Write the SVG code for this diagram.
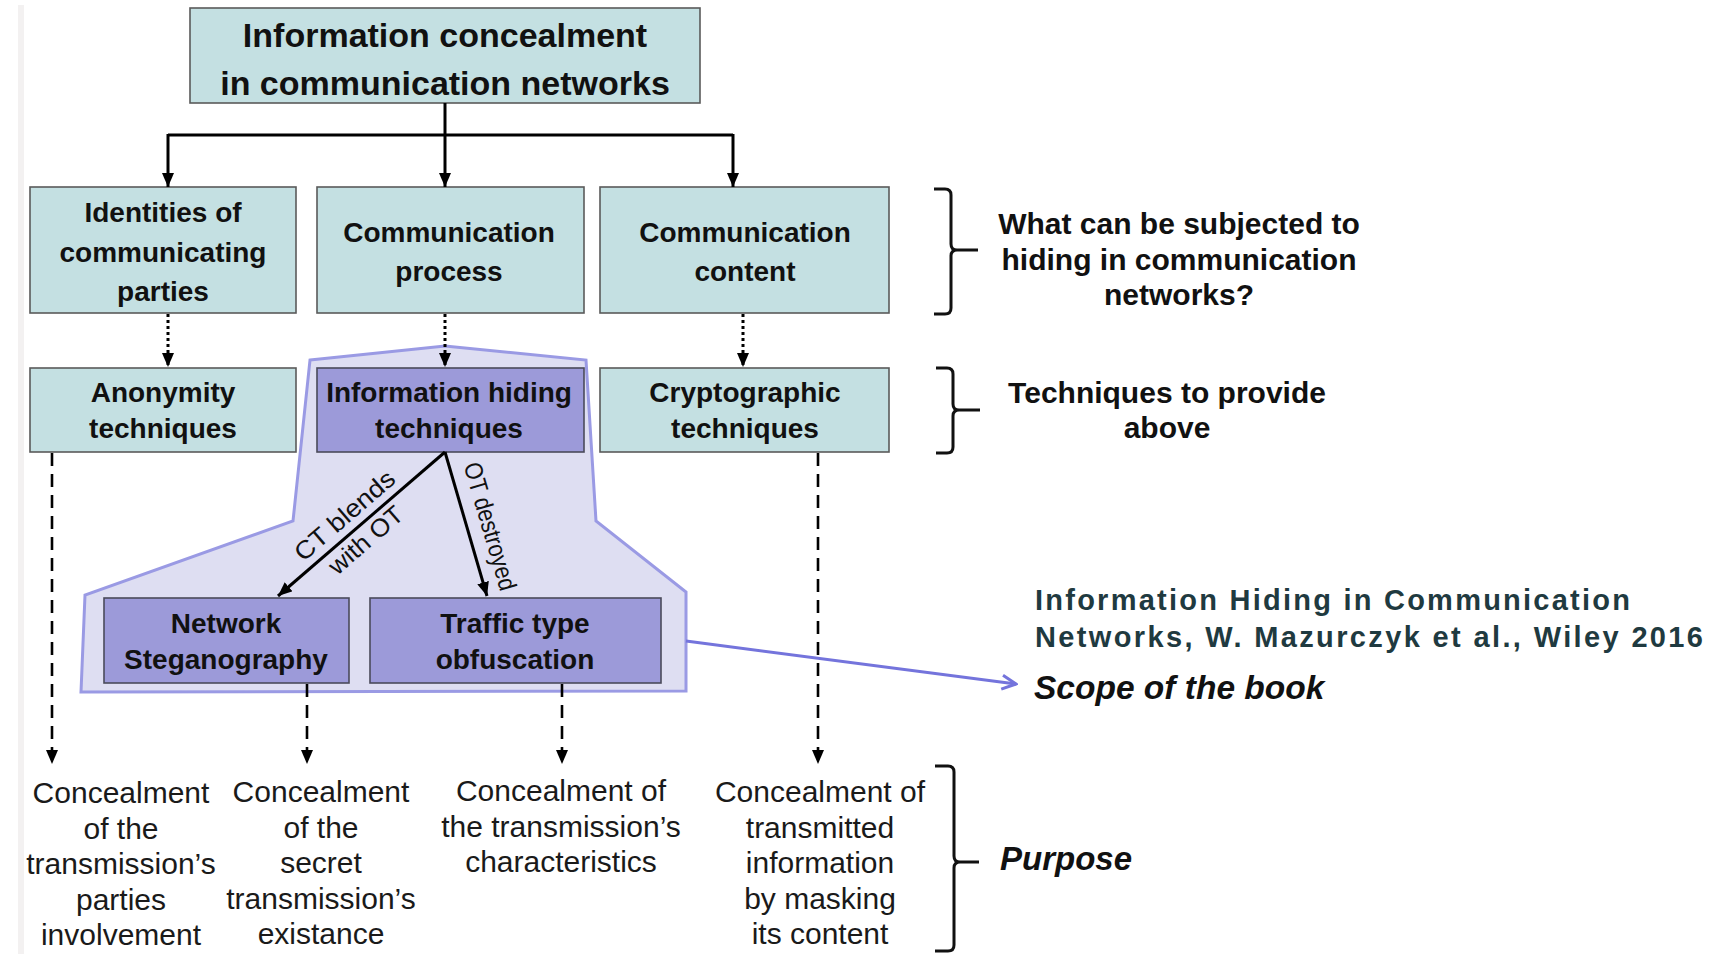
<svg xmlns="http://www.w3.org/2000/svg" width="1729" height="954" viewBox="0 0 1729 954">
<style>
  .box { fill:#c4e0e2; stroke:#5a5a5a; stroke-width:1.6; }
  .pbox { fill:#9c9ad9; stroke:#4a4a5a; stroke-width:1.6; }
  .t { font-family:"Liberation Sans", Arial, Helvetica, sans-serif; fill:#111; text-anchor:middle; }
  .b28 { font-size:28px; font-weight:bold; }
  .title { font-size:34px; font-weight:bold; }
  .reg { font-size:30px; font-weight:normal; fill:#1a1a1a; }
  .lab { font-size:25px; font-weight:normal; }
  .side { font-size:30px; font-weight:bold; }
  .bi { font-family:"Liberation Sans", Arial, Helvetica, sans-serif; font-weight:bold; font-style:italic; fill:#111; }
  .cite { font-family:"Liberation Sans", Arial, Helvetica, sans-serif; font-weight:bold; font-size:29px; fill:#1f3a40; }
  .solid { fill:none; stroke:#000; stroke-width:3; }
  .dotted { fill:none; stroke:#000; stroke-width:3; stroke-dasharray:3 3; }
  .dashed { fill:none; stroke:#000; stroke-width:2.6; stroke-dasharray:13 8; }
  .brace { fill:none; stroke:#111; stroke-width:3; stroke-linejoin:round; }
</style>
<defs>
  <marker id="ah" viewBox="0 0 14 12" refX="14" refY="6" markerWidth="14" markerHeight="12" markerUnits="userSpaceOnUse" orient="auto">
    <path d="M0,0 L14,6 L0,12 z" fill="#000"/>
  </marker>
  <marker id="bh" viewBox="0 0 20 20" refX="18" refY="10" markerWidth="20" markerHeight="20" markerUnits="userSpaceOnUse" orient="auto">
    <path d="M4,3 L18,10 L4,17" fill="none" stroke="#7474dc" stroke-width="3"/>
  </marker>
</defs>
<rect x="0" y="0" width="1729" height="954" fill="#ffffff"/>
<rect x="18" y="5" width="6" height="949" fill="#f3f1f1"/>

<g id="scope-region">
  <path d="M310,360 L445,346 L586,360 L596,521 L686,592 L686,691 L81,692 L85,595 L293,521 Z" fill="#dedef2" stroke="#9a9ae4" stroke-width="3"/>
</g>

<g id="title">
  <rect class="box" x="190" y="8" width="510" height="95"/>
  <text class="t title" x="445" y="47">Information concealment</text>
  <text class="t title" x="445" y="95">in communication networks</text>
</g>

<g id="identities">
  <rect class="box" x="30" y="187" width="266" height="126"/>
  <text class="t b28" x="163" y="222">Identities of</text>
  <text class="t b28" x="163" y="262">communicating</text>
  <text class="t b28" x="163" y="301">parties</text>
</g>
<g id="process">
  <rect class="box" x="317" y="187" width="267" height="126"/>
  <text class="t b28" x="449" y="242">Communication</text>
  <text class="t b28" x="449" y="281">process</text>
</g>
<g id="content">
  <rect class="box" x="600" y="187" width="289" height="126"/>
  <text class="t b28" x="745" y="242">Communication</text>
  <text class="t b28" x="745" y="281">content</text>
</g>

<g id="anonymity">
  <rect class="box" x="30" y="368" width="266" height="84"/>
  <text class="t b28" x="163" y="402">Anonymity</text>
  <text class="t b28" x="163" y="438">techniques</text>
</g>
<g id="info-hiding">
  <rect class="pbox" x="317" y="368" width="267" height="84"/>
  <text class="t b28" x="449" y="402">Information hiding</text>
  <text class="t b28" x="449" y="438">techniques</text>
</g>
<g id="crypto">
  <rect class="box" x="600" y="368" width="289" height="84"/>
  <text class="t b28" x="745" y="402">Cryptographic</text>
  <text class="t b28" x="745" y="438">techniques</text>
</g>

<g id="steganography">
  <rect class="pbox" x="104" y="598" width="245" height="85"/>
  <text class="t b28" x="226" y="633">Network</text>
  <text class="t b28" x="226" y="669">Steganography</text>
</g>
<g id="obfuscation">
  <rect class="pbox" x="370" y="598" width="291" height="85"/>
  <text class="t b28" x="515" y="633">Traffic type</text>
  <text class="t b28" x="515" y="669">obfuscation</text>
</g>

<g id="connectors">
  <path class="solid" d="M445,103 V187" marker-end="url(#ah)"/>
  <path class="solid" d="M168,135 H733"/>
  <path class="solid" d="M168,134 V187" marker-end="url(#ah)"/>
  <path class="solid" d="M733,134 V187" marker-end="url(#ah)"/>
  <path class="dotted" d="M168,314 V367" marker-end="url(#ah)"/>
  <path class="dotted" d="M445,314 V367" marker-end="url(#ah)"/>
  <path class="dotted" d="M743,314 V367" marker-end="url(#ah)"/>
  <path class="solid" d="M445,452 L278,596" marker-end="url(#ah)"/>
  <path class="solid" d="M445,452 L487,596" marker-end="url(#ah)"/>
  <path class="dashed" d="M52,453 V764" marker-end="url(#ah)"/>
  <path class="dashed" d="M818,453 V764" marker-end="url(#ah)"/>
  <path class="dashed" d="M307,684 V764" marker-end="url(#ah)"/>
  <path class="dashed" d="M562,684 V764" marker-end="url(#ah)"/>
  <path d="M686,641 L1016,684" fill="none" stroke="#7474dc" stroke-width="3" marker-end="url(#bh)"/>
  <g transform="translate(445,452) rotate(-40.77)">
    <text class="t lab" x="-117.5" y="-9" textLength="124" lengthAdjust="spacingAndGlyphs">CT blends</text>
    <text class="t lab" x="-117.5" y="23.5" textLength="90" lengthAdjust="spacingAndGlyphs">with OT</text>
  </g>
  <g transform="translate(445,452) rotate(73.74)">
    <text class="t lab" x="84" y="-14" textLength="132" lengthAdjust="spacingAndGlyphs">OT destroyed</text>
  </g>
</g>

<g id="purpose-texts">
  <text class="t reg" x="121" y="803">Concealment</text>
  <text class="t reg" x="121" y="838.5">of the</text>
  <text class="t reg" x="121" y="874">transmission’s</text>
  <text class="t reg" x="121" y="909.5">parties</text>
  <text class="t reg" x="121" y="945">involvement</text>

  <text class="t reg" x="321" y="802">Concealment</text>
  <text class="t reg" x="321" y="837.5">of the</text>
  <text class="t reg" x="321" y="873">secret</text>
  <text class="t reg" x="321" y="908.5">transmission’s</text>
  <text class="t reg" x="321" y="944">existance</text>

  <text class="t reg" x="561" y="801">Concealment of</text>
  <text class="t reg" x="561" y="836.5">the transmission’s</text>
  <text class="t reg" x="561" y="872">characteristics</text>

  <text class="t reg" x="820" y="802">Concealment of</text>
  <text class="t reg" x="820" y="837.5">transmitted</text>
  <text class="t reg" x="820" y="873">information</text>
  <text class="t reg" x="820" y="908.5">by masking</text>
  <text class="t reg" x="820" y="944">its content</text>
</g>

<g id="brace-what">
  <path class="brace" d="M934,189 H945 Q951,189 951,195 V244 Q951,250 957,250 H978 M957,250 Q951,250 951,256 V308 Q951,314 945,314 H934"/>
  <text class="t side" x="1179" y="234">What can be subjected to</text>
  <text class="t side" x="1179" y="270">hiding in communication</text>
  <text class="t side" x="1179" y="305">networks?</text>
</g>
<g id="brace-techniques">
  <path class="brace" d="M936,368 H947 Q953,368 953,374 V404 Q953,410 959,410 H980 M959,410 Q953,410 953,416 V447 Q953,453 947,453 H936"/>
  <text class="t side" x="1167" y="403">Techniques to provide</text>
  <text class="t side" x="1167" y="438">above</text>
</g>
<g id="brace-purpose">
  <path class="brace" d="M935,766 H948 Q954,766 954,772 V856 Q954,862 960,862 H979 M960,862 Q954,862 954,868 V945 Q954,951 948,951 H935"/>
  <text class="bi" x="1000" y="870" font-size="33">Purpose</text>
</g>

<g id="citation">
  <text class="cite" x="1035" y="610" textLength="595" lengthAdjust="spacing">Information Hiding in Communication</text>
  <text class="cite" x="1035" y="647" textLength="668" lengthAdjust="spacing">Networks, W. Mazurczyk et al., Wiley 2016</text>
</g>
<g id="scope-label">
  <text class="bi" x="1034" y="699" font-size="33.5">Scope of the book</text>
</g>
</svg>
